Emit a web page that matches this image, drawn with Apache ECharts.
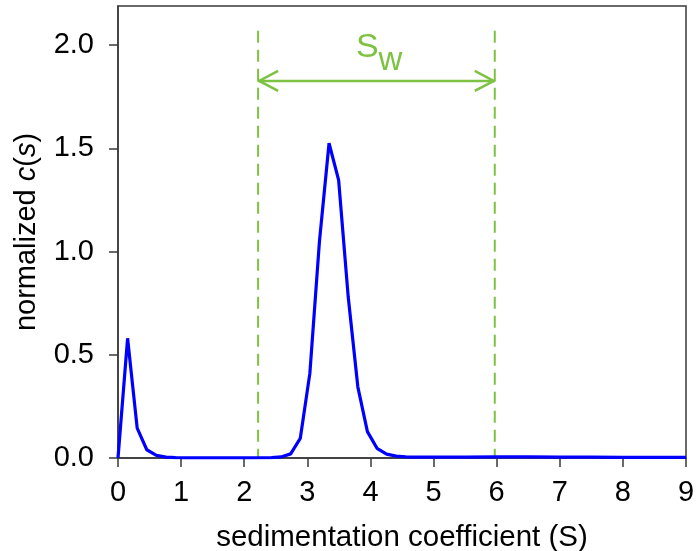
<!DOCTYPE html>
<html>
<head>
<meta charset="utf-8">
<script src="https://cdn.jsdelivr.net/npm/echarts@6/dist/echarts.min.js"></script>
<style>html,body{margin:0;padding:0;background:#fff}#c{width:696px;height:551px}</style>
</head>
<body>
<div id="c"></div>
<script>
// sedimentation coefficient (S)
var sValues = [0, 0.152, 0.304, 0.456, 0.608, 0.76, 0.912, 1.064, 1.216, 1.5, 2.0, 2.432, 2.584, 2.736, 2.888, 3.04, 3.192, 3.344, 3.496, 3.648, 3.80, 3.952, 4.104, 4.256, 4.408, 4.56, 4.712, 5.0, 5.5, 6.0, 6.5, 7.0, 7.5, 8.0, 8.5, 9.0];
// normalized c(s)
var csValues = [0, 0.58, 0.145, 0.04, 0.013, 0.004, 0.002, 0.001, 0.001, 0.001, 0.001, 0.002, 0.005, 0.02, 0.095, 0.41, 1.05, 1.525, 1.346, 0.78, 0.345, 0.128, 0.047, 0.019, 0.009, 0.005, 0.004, 0.004, 0.004, 0.005, 0.005, 0.004, 0.004, 0.003, 0.003, 0.003];
var xTicks = [0, 1, 2, 3, 4, 5, 6, 7, 8, 9];
var yTicks = [0, 0.5, 1.0, 1.5, 2.0];
// S_w range annotation: [left s, right s, arrow level, dashed line top]
var swRange = [2.22, 5.97, 1.827, 2.07];

var FONT = 'Liberation Sans, Arial, sans-serif';
var GREEN = '#7dc242';

var curve = sValues.map(function (s, i) { return [s, csValues[i]]; });

var chart = echarts.init(document.getElementById('c'), null, {renderer: 'canvas'});
chart.setOption({
  animation: false,
  grid: {left: 118, right: 10, top: 6, bottom: 93, containLabel: false, outerBoundsMode: 'none',
    show: true, borderColor: '#3a3a3a', borderWidth: 1.5, backgroundColor: 'transparent'},
  xAxis: {
    type: 'value', min: 0, max: 9, interval: 1,
    name: 'sedimentation coefficient (S)', nameLocation: 'middle', nameGap: 65,
    nameTextStyle: {fontSize: 29.5, color: '#000', fontFamily: FONT},
    axisLine: {show: true, lineStyle: {color: '#3a3a3a', width: 1.5}},
    axisTick: {show: true, length: 9, lineStyle: {color: '#3a3a3a', width: 1.5}, customValues: xTicks},
    axisLabel: {fontSize: 29, color: '#000', fontFamily: FONT, margin: 20, customValues: xTicks},
    splitLine: {show: false}
  },
  yAxis: {
    type: 'value', min: 0, max: 2.19,
    name: '{n|normalized }{i|c}{n|(}{i|s}{n|)}', nameLocation: 'middle', nameGap: 77,
    nameTextStyle: {fontSize: 29, color: '#000', fontFamily: FONT,
      rich: {n: {fontSize: 29, color: '#000', fontFamily: FONT}, i: {fontSize: 29, color: '#000', fontFamily: FONT, fontStyle: 'italic'}}},
    axisLine: {show: true, lineStyle: {color: '#3a3a3a', width: 1.5}},
    axisTick: {show: true, length: 9, lineStyle: {color: '#3a3a3a', width: 1.5}, customValues: yTicks},
    axisLabel: {fontSize: 29, color: '#000', fontFamily: FONT, margin: 24, customValues: yTicks,
      formatter: function (v) { return v.toFixed(1); }},
    splitLine: {show: false}
  },
  series: [
    {
      type: 'line', data: curve, symbol: 'none', smooth: false,
      lineStyle: {color: '#0000ff', width: 3.2}, z: 3
    },
    {
      type: 'custom', clip: false, z: 2,
      data: [swRange],
      encode: {x: [0, 1], y: [2, 3]},
      renderItem: function (params, api) {
        var x1 = api.value(0), x2 = api.value(1), ya = api.value(2), yt = api.value(3);
        var pL = api.coord([x1, ya]), pR = api.coord([x2, ya]);
        var tL = api.coord([x1, yt]), bL = api.coord([x1, 0]);
        var tR = api.coord([x2, yt]), bR = api.coord([x2, 0]);
        var dash = {stroke: GREEN, lineWidth: 2, lineDash: [12, 7]};
        var solid = {stroke: GREEN, lineWidth: 2.5, fill: null};
        var mid = (pL[0] + pR[0]) / 2;
        return {
          type: 'group',
          children: [
            {type: 'line', shape: {x1: tL[0], y1: tL[1], x2: bL[0], y2: bL[1]}, style: dash},
            {type: 'line', shape: {x1: tR[0], y1: tR[1], x2: bR[0], y2: bR[1]}, style: dash},
            {type: 'line', shape: {x1: pL[0], y1: pL[1], x2: pR[0], y2: pR[1]}, style: solid},
            {type: 'polyline', shape: {points: [[pL[0] + 20, pL[1] - 10], [pL[0] + 1, pL[1]], [pL[0] + 20, pL[1] + 10]]}, style: solid},
            {type: 'polyline', shape: {points: [[pR[0] - 20, pR[1] - 10], [pR[0] - 1, pR[1]], [pR[0] - 20, pR[1] + 10]]}, style: solid},
            {type: 'text', style: {text: 'S', x: mid - 9, y: pL[1] - 33, fontSize: 34, fontFamily: FONT, fill: GREEN, align: 'center', verticalAlign: 'middle'}},
            {type: 'text', style: {text: 'w', x: mid + 14, y: pL[1] - 20, fontSize: 33, fontFamily: FONT, fill: GREEN, align: 'center', verticalAlign: 'middle'}}
          ]
        };
      }
    }
  ]
});
</script>
</body>
</html>
